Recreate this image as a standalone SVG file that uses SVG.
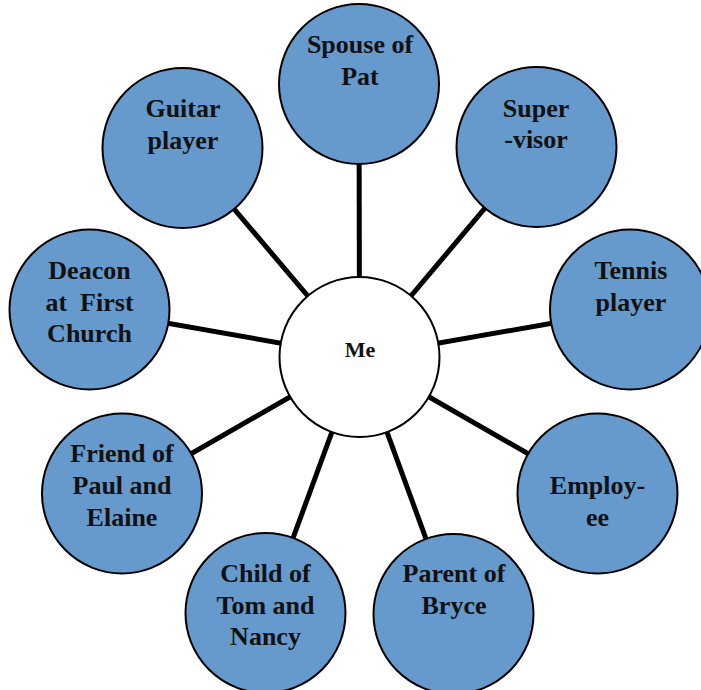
<svg xmlns="http://www.w3.org/2000/svg" width="701" height="690" viewBox="0 0 701 690">
<style>
.n{fill:#6699cc;stroke:#000;stroke-width:2}
.c{fill:#fff;stroke:#000;stroke-width:2}
.t{font-family:'Liberation Serif','DejaVu Serif',serif;font-weight:bold;font-size:26px;fill:#111;text-anchor:middle}
.e{stroke:#000;stroke-width:5;fill:none}
</style>
<rect width="701" height="690" fill="#fff"/>
<g id="connectors">
<line class="e" x1="359.5" y1="357" x2="359" y2="84"/>
<line class="e" x1="359.5" y1="357" x2="536.5" y2="147"/>
<line class="e" x1="359.5" y1="357" x2="630" y2="309.5"/>
<line class="e" x1="359.5" y1="357" x2="597.5" y2="493.5"/>
<line class="e" x1="359.5" y1="357" x2="453.5" y2="614"/>
<line class="e" x1="359.5" y1="357" x2="265.5" y2="613"/>
<line class="e" x1="359.5" y1="357" x2="122" y2="493.5"/>
<line class="e" x1="359.5" y1="357" x2="89.5" y2="309.5"/>
<line class="e" x1="359.5" y1="357" x2="182.5" y2="148"/>
</g>
<g id="me">
<circle class="c" cx="359.5" cy="357" r="80"/>
<text class="t" x="360" y="357" style="font-size:22px">Me</text>
</g>
<g id="spouse">
<circle class="n" cx="359" cy="84" r="80"/>
<text class="t" x="360" y="53">Spouse of</text>
<text class="t" x="360" y="85">Pat</text>
</g>
<g id="supervisor">
<circle class="n" cx="536.5" cy="147" r="80"/>
<text class="t" x="536" y="117">Super</text>
<text class="t" x="536" y="148">-visor</text>
</g>
<g id="tennis">
<circle class="n" cx="630" cy="309.5" r="80"/>
<text class="t" x="631" y="279">Tennis</text>
<text class="t" x="631" y="311">player</text>
</g>
<g id="employee">
<circle class="n" cx="597.5" cy="493.5" r="80"/>
<text class="t" x="597.5" y="494">Employ-</text>
<text class="t" x="597.5" y="526">ee</text>
</g>
<g id="parent">
<circle class="n" cx="453.5" cy="614" r="80"/>
<text class="t" x="454" y="582">Parent of</text>
<text class="t" x="454" y="614">Bryce</text>
</g>
<g id="child">
<circle class="n" cx="265.5" cy="613" r="80"/>
<text class="t" x="265.5" y="582">Child of</text>
<text class="t" x="265.5" y="614">Tom and</text>
<text class="t" x="265.5" y="645">Nancy</text>
</g>
<g id="friend">
<circle class="n" cx="122" cy="493.5" r="80"/>
<text class="t" x="122" y="462">Friend of</text>
<text class="t" x="122" y="494">Paul and</text>
<text class="t" x="122" y="526">Elaine</text>
</g>
<g id="deacon">
<circle class="n" cx="89.5" cy="309.5" r="80"/>
<text class="t" x="89.5" y="279">Deacon</text>
<text class="t" x="89.5" y="311" xml:space="preserve">at  First</text>
<text class="t" x="89.5" y="342">Church</text>
</g>
<g id="guitar">
<circle class="n" cx="182.5" cy="148" r="80"/>
<text class="t" x="183" y="117">Guitar</text>
<text class="t" x="183" y="149">player</text>
</g>
</svg>
